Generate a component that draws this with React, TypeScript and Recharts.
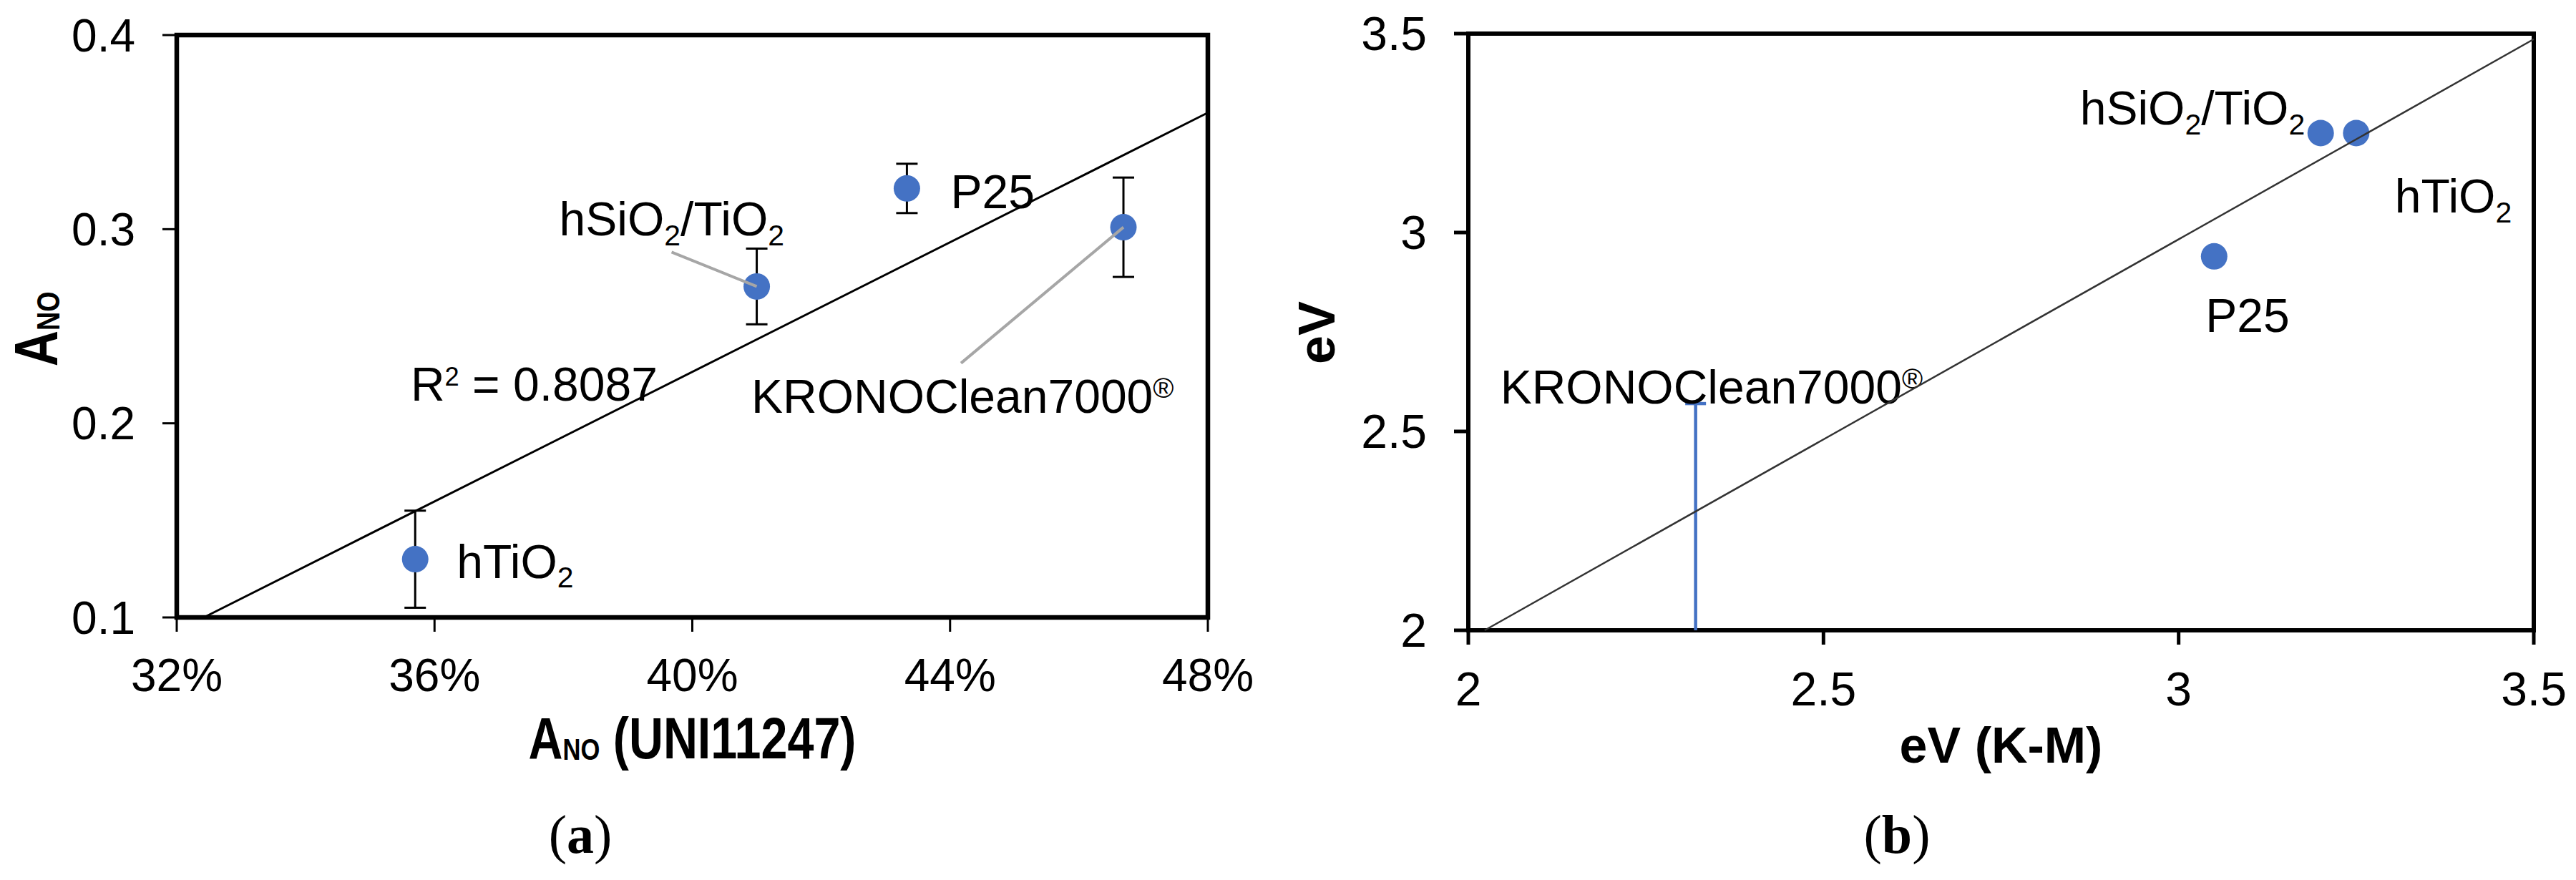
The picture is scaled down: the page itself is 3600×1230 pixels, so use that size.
import React from 'react';
import { ScatterChart, Scatter, XAxis, YAxis, ErrorBar, ReferenceArea, ReferenceDot } from 'recharts';

// ---------------- Panel (a) data ----------------
const samplesA = ['hTiO_2', 'hSiO_2/TiO_2', 'P25', 'KRONOClean7000^®'];
const anoUniA = [35.7, 41.0, 43.33, 46.69]; // A_NO (UNI11247), %
const anoA = [0.13, 0.2705, 0.321, 0.301]; // A_NO
const anoErrA = [0.025, 0.0195, 0.0127, 0.0256];
const trendXA = [32.42, 48];
const trendYA = [0.1, 0.36];
const xTicksA = [32, 36, 40, 44, 48];
const yTicksA = [0.1, 0.2, 0.3, 0.4];
const r2Text = 'R^2 = 0.8087';
const r2X = 35.63;
const r2Y = 0.2118;

// ---------------- Panel (b) data ----------------
const samplesB = ['hTiO_2', 'hSiO_2/TiO_2', 'P25'];
const evKMB = [3.25, 3.2, 3.05]; // eV (K-M)
const evB = [3.25, 3.25, 2.94]; // eV
const kronoNameB = 'KRONOClean7000^®';
const kronoXB = 2.32;
const kronoRangeB = [2.0, 2.57];
const diagXB = [2.023, 3.5];
const diagYB = [2.0, 3.486];
const ticksB = [2, 2.5, 3, 3.5];

// ---------------- built tables ----------------
const pointsA = samplesA.map((name, i) => ({ name, x: anoUniA[i], y: anoA[i], err: anoErrA[i] }));
const trendA = trendXA.map((x, i) => ({ x, y: trendYA[i] }));
const pointsB = samplesB.map((name, i) => ({ name, x: evKMB[i], y: evB[i] }));
const kronoB = kronoRangeB.map((y, i) => ({ name: i === kronoRangeB.length - 1 ? kronoNameB : '', x: kronoXB, y, top: i === kronoRangeB.length - 1 }));
const diagB = diagXB.map((x, i) => ({ x, y: diagYB[i] }));

// ---------------- style / layout ----------------
const BLUE = '#4472C4';
const GRAY = '#A6A6A6';
const SANS = "'Liberation Sans', Arial, Helvetica, sans-serif";
const SERIF = "'Liberation Serif', 'Times New Roman', serif";
const H = 1230;
const NARROW_SCALE = 0.81;

const A = { left: 0, width: 1820, plot: { l: 247, t: 49, r: 1688, b: 863 } };
const B = { left: 1750, width: 1850, plot: { l: 2052, t: 47, r: 3541, b: 881 } };

const labelLayoutA: Record<string, any> = {
  'hTiO_2': { dx: 58, dy: 26, anchor: 'start' },
  'hSiO_2/TiO_2': { dx: -276, dy: -71, anchor: 'start', leader: [-119, -48] },
  'P25': { dx: 61, dy: 28, anchor: 'start' },
  'KRONOClean7000^®': { dx: -520, dy: 259, anchor: 'start', leader: [-227, 190] },
};
const labelLayoutB: Record<string, any> = {
  'hTiO_2': { dx: 54, dy: 111, anchor: 'start' },
  'hSiO_2/TiO_2': { dx: -22, dy: -12, anchor: 'end' },
  'P25': { dx: -12, dy: 106, anchor: 'start' },
  'KRONOClean7000^®': { dx: -273, dy: 0, anchor: 'start' },
};

type Part = { t: string; k: 'n' | 'sub' | 'sup' };
function parseRich(text: string): Part[] {
  const parts: Part[] = [];
  for (let i = 0; i < text.length; i++) {
    const c = text[i];
    if ((c === '_' || c === '^') && i + 1 < text.length) {
      let t = '';
      if (text[i + 1] === '{') {
        const end = text.indexOf('}', i + 2);
        t = text.slice(i + 2, end);
        i = end;
      } else {
        t = text[i + 1];
        i++;
      }
      parts.push({ t, k: c === '_' ? 'sub' : 'sup' });
    } else {
      const last = parts[parts.length - 1];
      if (last && last.k === 'n') last.t += c;
      else parts.push({ t: c, k: 'n' });
    }
  }
  return parts;
}

function RichText(props: any) {
  const { x, y, text, size, anchor = 'start', family = SANS, weight = 'normal', subScale = 0.62, subDy = 0.21, supScale = 0.6, supDy = -0.32 } = props;
  const parts = parseRich(text);
  let cur = 0;
  return (
    <text x={x} y={y} textAnchor={anchor} fontSize={size} fontFamily={family} fontWeight={weight} fill="#000" style={{ whiteSpace: 'pre' }}>
      {parts.map((p, i) => {
        const target = p.k === 'sub' ? size * subDy : p.k === 'sup' ? size * supDy : 0;
        const dy = target - cur;
        cur = target;
        const fs = p.k === 'n' ? size : p.k === 'sub' ? size * subScale : size * supScale;
        return (
          <tspan key={i} dy={dy} fontSize={fs}>
            {p.t}
          </tspan>
        );
      })}
    </text>
  );
}

const makePointShape = (layout: Record<string, any>) => (props: any) => {
  const { cx, cy } = props;
  const p = props.payload ?? props;
  const lay = layout[p.name];
  return (
    <g>
      <circle cx={cx} cy={cy} r={18.5} fill={BLUE} />
      {lay && lay.leader && (
        <line x1={cx} y1={cy} x2={cx + lay.leader[0]} y2={cy + lay.leader[1]} stroke={GRAY} strokeWidth={4} />
      )}
      {lay && <RichText x={cx + lay.dx} y={cy + lay.dy} text={p.name} size={66} anchor={lay.anchor} />}
    </g>
  );
};

const kronoShape = (props: any) => {
  const { cx, cy } = props;
  const p = props.payload ?? props;
  if (!p.top) return <g />;
  const lay = labelLayoutB[p.name];
  return (
    <g>
      <line x1={cx - 14.5} y1={cy} x2={cx + 14.5} y2={cy} stroke={BLUE} strokeWidth={4.5} />
      <RichText x={cx + lay.dx} y={cy + lay.dy} text={p.name} size={66} anchor={lay.anchor} />
    </g>
  );
};

const noShape = () => <g />;

function PanelA() {
  const m = { top: A.plot.t, right: A.width - A.plot.r, bottom: H - A.plot.b - 150, left: A.plot.l - 200 };
  return (
    <ScatterChart width={A.width} height={H} margin={m}>
      <XAxis
        type="number"
        dataKey="x"
        domain={[32, 48]}
        ticks={xTicksA}
        interval={0}
        tickFormatter={(v: number) => `${v}%`}
        height={150}
        axisLine={false}
        tickLine={{ stroke: '#000', strokeWidth: 3 }}
        tickSize={20}
        tickMargin={38}
        tick={{ fill: '#000', fontSize: 64, fontFamily: SANS }}
      />
      <YAxis
        type="number"
        dataKey="y"
        domain={[0.1, 0.4]}
        ticks={yTicksA}
        interval={0}
        width={200}
        axisLine={false}
        tickLine={{ stroke: '#000', strokeWidth: 3 }}
        tickSize={20}
        tickMargin={38}
        tick={{ fill: '#000', fontSize: 64, fontFamily: SANS }}
      />
      <Scatter data={trendA} line={{ stroke: '#000', strokeWidth: 3 }} shape={noShape} isAnimationActive={false} />
      <Scatter data={pointsA} shape={makePointShape(labelLayoutA)} isAnimationActive={false}>
        <ErrorBar dataKey="err" direction="y" width={15} stroke="#000" strokeWidth={3} />
      </Scatter>
      <ReferenceDot
        x={r2X}
        y={r2Y}
        r={0}
        shape={(p: any) => <RichText x={p.cx} y={p.cy} text={r2Text} size={66} supScale={0.55} />}
      />
      <ReferenceArea x1={32} x2={48} y1={0.1} y2={0.4} fill="none" stroke="#000" strokeWidth={6.5} />
    </ScatterChart>
  );
}

function PanelB() {
  const m = { top: B.plot.t, right: B.left + B.width - B.plot.r, bottom: H - B.plot.b - 150, left: B.plot.l - B.left - 200 };
  return (
    <ScatterChart width={B.width} height={H} margin={m}>
      <XAxis
        type="number"
        dataKey="x"
        domain={[2, 3.5]}
        ticks={ticksB}
        interval={0}
        height={150}
        axisLine={false}
        tickLine={{ stroke: '#000', strokeWidth: 5 }}
        tickSize={20}
        tickMargin={38}
        tick={{ fill: '#000', fontSize: 66, fontFamily: SANS }}
      />
      <YAxis
        type="number"
        dataKey="y"
        domain={[2, 3.5]}
        ticks={ticksB}
        interval={0}
        width={200}
        axisLine={false}
        tickLine={{ stroke: '#000', strokeWidth: 5 }}
        tickSize={20}
        tickMargin={38}
        tick={{ fill: '#000', fontSize: 66, fontFamily: SANS }}
      />
      <Scatter data={kronoB} line={{ stroke: BLUE, strokeWidth: 4.5 }} shape={kronoShape} isAnimationActive={false} />
      <Scatter data={pointsB} shape={makePointShape(labelLayoutB)} isAnimationActive={false} />
      <Scatter data={diagB} line={{ stroke: '#333', strokeWidth: 2.5 }} shape={noShape} isAnimationActive={false} />
      <ReferenceArea x1={2} x2={3.5} y1={2} y2={3.5} fill="none" stroke="#000" strokeWidth={6} />
    </ScatterChart>
  );
}

function Titles() {
  const aCx = (A.plot.l + A.plot.r) / 2;
  const aCy = (A.plot.t + A.plot.b) / 2;
  const bCx = (B.plot.l + B.plot.r) / 2;
  const bCy = (B.plot.t + B.plot.b) / 2;
  return (
    <svg width={3600} height={H} style={{ position: 'absolute', left: 0, top: 0, pointerEvents: 'none' }}>
      <g transform={`translate(${aCx} ${A.plot.b + 197}) scale(${NARROW_SCALE} 1)`}>
        <RichText x={0} y={0} text="A_{NO} (UNI11247)" size={82} anchor="middle" weight="bold" subScale={0.52} subDy={0.03} />
      </g>
      <g transform={`translate(80 ${aCy + 4}) rotate(-90) scale(${NARROW_SCALE} 1)`}>
        <RichText x={0} y={0} text="A_{NO}" size={86} anchor="middle" weight="bold" subScale={0.52} subDy={0.03} />
      </g>
      <text x={811} y={1192} textAnchor="middle" fontFamily={SERIF} fontSize={76} fill="#000">
        (<tspan fontWeight="bold">a</tspan>)
      </text>

      <text x={bCx} y={B.plot.b + 185} textAnchor="middle" fontFamily={SANS} fontWeight="bold" fontSize={70} fill="#000">
        eV (K-M)
      </text>
      <g transform={`rotate(-90 1865 ${bCy + 1})`}>
        <text x={1865} y={bCy + 1} textAnchor="middle" fontFamily={SANS} fontWeight="bold" fontSize={72} fill="#000">
          eV
        </text>
      </g>
      <text x={2651} y={1192} textAnchor="middle" fontFamily={SERIF} fontSize={76} fill="#000">
        (<tspan fontWeight="bold">b</tspan>)
      </text>
    </svg>
  );
}

export default function App() {
  return (
    <div style={{ position: 'absolute', left: 0, top: 0, width: 3600, height: H, background: '#fff', overflow: 'hidden' }}>
      <div style={{ position: 'absolute', left: A.left, top: 0 }}>
        <PanelA />
      </div>
      <div style={{ position: 'absolute', left: B.left, top: 0 }}>
        <PanelB />
      </div>
      <Titles />
    </div>
  );
}
